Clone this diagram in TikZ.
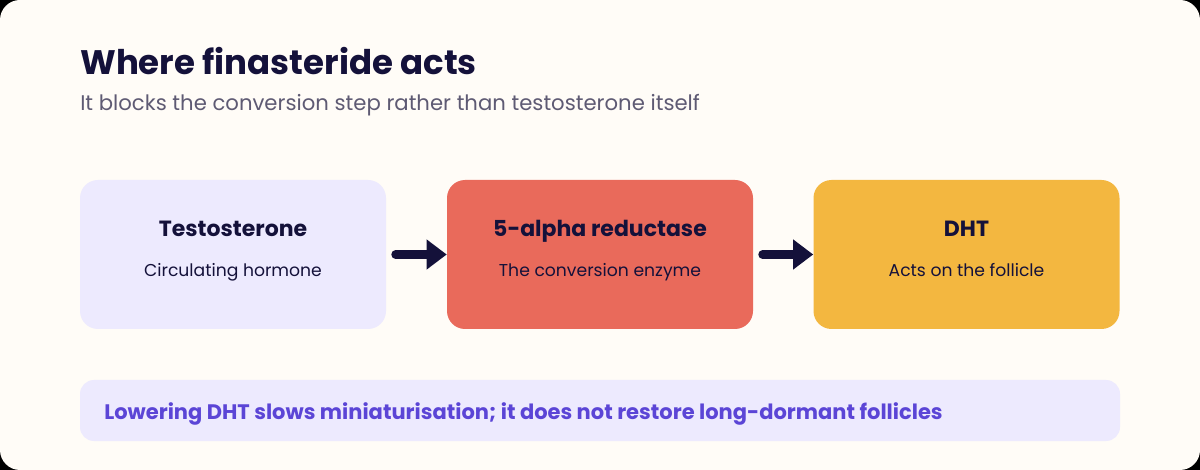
\documentclass[tikz,border=0pt]{standalone}
\usepackage{fontspec}
\setmainfont{Poppins}
\usetikzlibrary{arrows.meta}
\definecolor{bgc}{HTML}{FFFCF7}
\definecolor{lav}{HTML}{EDEAFE}
\definecolor{coral}{HTML}{E96A5B}
\definecolor{amber}{HTML}{F3B740}
\definecolor{ink}{HTML}{14113A}
\definecolor{greytxt}{HTML}{5E5A73}
\definecolor{purp}{HTML}{5B45D6}
\tikzset{
  card/.style={rounded corners=13.5pt, minimum width=229.5pt, minimum height=111.75pt, inner sep=0pt},
  cardtitle/.style={font=\fontsize{16.5}{19}\selectfont\bfseries, text=ink},
  cardsub/.style={font=\fontsize{12.9}{15}\selectfont, text=ink},
  flow/.style={line width=6.5pt, line cap=round, draw=ink, -{Triangle[length=15pt,width=21.5pt]}, shorten <=7pt}
}
\begin{document}
\begin{tikzpicture}[x=0.75pt,y=-0.75pt]
\fill[black] (0,0) rectangle (1200,470);
\fill[bgc, rounded corners=15pt] (0,0) rectangle (1200,470);
\useasboundingbox (0,0) rectangle (1200,470);
\node[anchor=base west, inner sep=0pt, text=ink, font=\fontsize{25.5}{30}\selectfont\bfseries] (title) at (80,75) {Where finasteride acts};
\node[anchor=base west, inner sep=0pt, text=greytxt, font=\fontsize{15.9}{19}\selectfont] (sub) at (80,110.5) {It blocks the conversion step rather than testosterone itself};
\node[card, fill=lav] (t) at (233,254.5) {};
\node[card, fill=coral] (r) at (600,254.5) {};
\node[card, fill=amber] (d) at (966.5,254.5) {};
\foreach \n/\a/\b in {t/Testosterone/Circulating hormone, r/5-alpha reductase/The conversion enzyme, d/DHT/Acts on the follicle}{
  \node[cardtitle, anchor=base, inner sep=0pt] (\n-h) at ([yshift=-42.75pt]\n.north) {\a};
  \node[cardsub, anchor=base, inner sep=0pt] (\n-s) at ([yshift=-72.75pt]\n.north) {\b};
}
\draw[flow] (t.east) -- (r.west);
\draw[flow] (r.east) -- (d.west);
\node[fill=lav, rounded corners=10.5pt, minimum width=780pt, minimum height=45.75pt, inner sep=0pt] (band) at (600,410.5) {};
\node[anchor=west, inner sep=0pt, text=purp, font=\fontsize{15.75}{19}\selectfont\bfseries] (note) at (104,413.5) {Lowering DHT slows miniaturisation; it does not restore long-dormant follicles};
\end{tikzpicture}
\end{document}
